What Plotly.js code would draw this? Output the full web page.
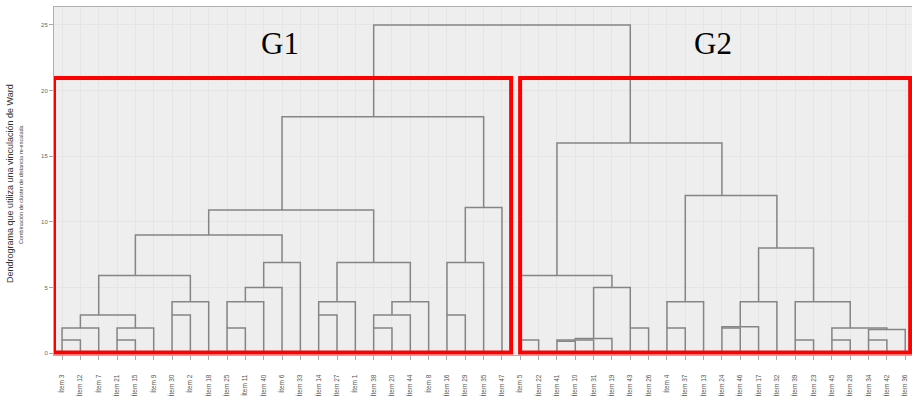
<!DOCTYPE html>
<html>
<head>
<meta charset="utf-8">
<script src="https://cdn.plot.ly/plotly-3.0.1.min.js"></script>
<style>html,body{margin:0;padding:0;background:#fff;}#chart{width:912px;height:409px;}</style>
</head>
<body>
<div id="chart"></div>
<script>
// Leaf labels in dendrogram order (left to right)
const leafLabels = ["Ítem 3","Ítem 12","Ítem 7","Ítem 21","Ítem 15","Ítem 9","Ítem 30","Ítem 2","Ítem 18","Ítem 25",
  "Ítem 11","Ítem 40","Ítem 6","Ítem 33","Ítem 14","Ítem 27","Ítem 1","Ítem 38","Ítem 20","Ítem 44",
  "Ítem 8","Ítem 16","Ítem 29","Ítem 35","Ítem 47","Ítem 5","Ítem 22","Ítem 41","Ítem 10","Ítem 31",
  "Ítem 19","Ítem 43","Ítem 26","Ítem 4","Ítem 37","Ítem 13","Ítem 24","Ítem 46","Ítem 17","Ítem 32",
  "Ítem 39","Ítem 23","Ítem 45","Ítem 28","Ítem 34","Ítem 42","Ítem 36"];

// Merges: node ids < 47 are leaves, node 47+k is the cluster created by merge k
const mergeLeft   = [0,47,3,49,48,6,52,51,9,55,56,57,54,14,60,17,62,63,61,59,21,67,68,66,
                     25,27,72,73,31,74,71,33,78,36,80,81,40,42,44,85,84,83,82,79,77,70];
const mergeRight  = [1,2,4,5,50,7,8,53,10,11,12,13,58,15,16,18,19,20,64,65,22,23,24,69,
                     26,28,29,30,32,75,76,34,35,37,38,39,41,43,45,46,86,87,88,89,90,91];
const mergeHeight = [1.0,1.9,1.0,1.9,2.9,2.9,3.9,5.9,1.9,3.9,5.0,6.9,9.0,2.9,3.9,1.9,2.9,3.9,6.9,10.9,2.9,6.9,11.1,18.0,
                     1.0,0.9,1.0,1.1,1.9,5.0,5.9,1.9,3.9,1.9,2.0,3.9,1.0,1.0,1.0,1.8,1.9,3.9,8.0,12.0,16.0,25.0];

const yTicks = [0,5,10,15,20,25];
const groupNames = ["G1","G2"];

// Build dendrogram path (SPSS-style placement: merged cluster sits at the lower middle row)
const nLeaves = leafLabels.length;
const posX = [], posY = [];
for (let i = 0; i < nLeaves; i++) { posX.push(i); posY.push(0); }
const lx = [], ly = [];
for (let k = 0; k < mergeLeft.length; k++) {
  const a = mergeLeft[k], b = mergeRight[k], h = mergeHeight[k];
  lx.push(posX[a], posX[a], posX[b], posX[b], null);
  ly.push(posY[a], h, h, posY[b], null);
  posX.push(Math.floor((posX[a] + posX[b]) / 2));
  posY.push(h);
}

const trace = {
  x: lx, y: ly, type: 'scatter', mode: 'lines',
  line: {color: '#858585', width: 1.5},
  hoverinfo: 'skip', showlegend: false, connectgaps: false
};

const red = '#ff0000';
const shapes = [
  {type:'rect', xref:'x', yref:'y', x0:-0.44, x1:24.5, y0:0.04, y1:20.96, line:{color:red, width:4}},
  {type:'rect', xref:'x', yref:'y', x0:24.99, x1:46.27, y0:0.04, y1:20.96, line:{color:red, width:4}}
];

const annotations = [
  {xref:'x', yref:'y', x:11.9, y:23.6, text:groupNames[0], showarrow:false,
   font:{family:'Liberation Serif, Times New Roman, serif', size:31, color:'#000'}},
  {xref:'x', yref:'y', x:35.5, y:23.6, text:groupNames[1], showarrow:false,
   font:{family:'Liberation Serif, Times New Roman, serif', size:31, color:'#000'}},
  {xref:'paper', yref:'paper', x:0, y:0.5, xanchor:'center', yanchor:'middle', xshift:-44, yshift:-3,
   text:'Dendrograma que utiliza una vinculación de Ward', textangle:-90, showarrow:false,
   font:{family:'Liberation Sans, Arial, sans-serif', size:9, color:'#333'}},
  {xref:'paper', yref:'paper', x:0, y:0.5, xanchor:'center', yanchor:'middle', xshift:-33, yshift:-3,
   text:'Combinación de clúster de distancia re-escalada', textangle:-90, showarrow:false,
   font:{family:'Liberation Sans, Arial, sans-serif', size:5.5, color:'#444'}}
];

const layout = {
  width: 912, height: 409,
  margin: {l:54, r:0, t:7, b:54},
  paper_bgcolor: '#ffffff', plot_bgcolor: '#eeeeee',
  showlegend: false,
  xaxis: {
    range: [-0.44, 46.37], tickmode:'array',
    tickvals: leafLabels.map((_, i) => i), ticktext: leafLabels,
    tickangle: -90, tickfont: {family:'Liberation Sans, Arial, sans-serif', size:6.5, color:'#555'},
    ticks: 'outside', ticklen: 4, tickcolor: '#aaa', ticklabelstandoff: 12,
    showgrid: true, gridcolor: '#e5e5e5', gridwidth: 1,
    zeroline: false, showline: true, mirror: true, linecolor: '#b0b0b0', linewidth: 1,
    fixedrange: true
  },
  yaxis: {
    range: [-0.15, 26.37], tickmode:'array', tickvals: yTicks, ticktext: yTicks.map(String),
    tickfont: {family:'Liberation Sans, Arial, sans-serif', size:6, color:'#666'},
    ticks: 'outside', ticklen: 4, tickcolor: '#aaa',
    showgrid: true, gridcolor: '#e5e5e5', gridwidth: 1,
    zeroline: false, showline: true, mirror: true, linecolor: '#b0b0b0', linewidth: 1,
    fixedrange: true
  },
  shapes: shapes,
  annotations: annotations
};

Plotly.newPlot('chart', [trace], layout, {displayModeBar: false, staticPlot: true});
</script>
</body>
</html>
